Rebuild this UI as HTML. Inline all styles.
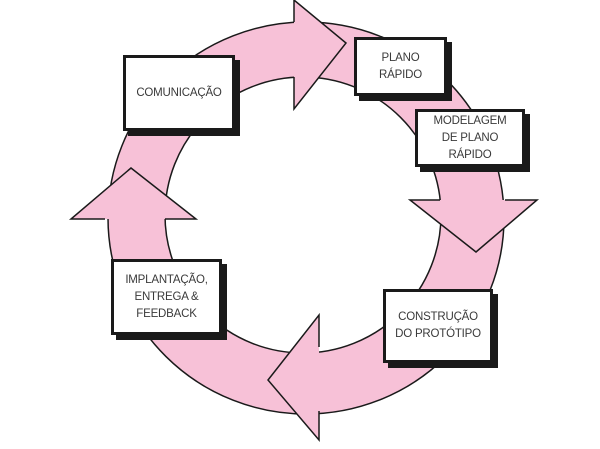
<!DOCTYPE html>
<html><head><meta charset="utf-8"><style>
html,body{margin:0;padding:0;background:#fff;width:600px;height:449px;overflow:hidden}
.b{position:absolute;background:#fff;border:3px solid #1a1a1a;box-shadow:5px 5px 0 #1a1a1a;box-sizing:border-box;display:flex;align-items:center;justify-content:center;text-align:center;font-family:"Liberation Sans",sans-serif;font-size:11.5px;line-height:17px;color:#3a3a3a;letter-spacing:-0.2px}
</style></head><body>
<svg width="600" height="449" style="position:absolute;left:0;top:0">
<path fill-rule="evenodd" fill="#f7c1d7" stroke="#1a1a1a" stroke-width="1.5" d="M108,218 a198,196 0 1,0 396,0 a198,196 0 1,0 -396,0 Z M165,215 a138,138 0 1,0 276,0 a138,138 0 1,0 -276,0 Z"/>
<g fill="#f7c1d7" stroke="none">
<polygon points="294,0 346,43 294,109"/>
<polygon points="537,200 476,252 410,200"/>
<polygon points="319,440 268,380 319,315"/>
<polygon points="71,219 131,168 196,219"/>
</g>
<g fill="none" stroke="#1a1a1a" stroke-width="1.5">
<polyline points="294,22 294,0 346,43 294,109 294,77"/>
<polyline points="505,200 537,200 476,252 410,200 440,200"/>
<polyline points="319,347 319,315 268,380 319,440 319,411"/>
<polyline points="105,219 71,219 131,168 196,219 165,219"/>
</g>
</svg>
<div class="b" style="left:123px;top:55px;width:112px;height:76px">COMUNICAÇÃO</div>
<div class="b" style="left:354px;top:37px;width:93px;height:59px">PLANO<br>RÁPIDO</div>
<div class="b" style="left:415px;top:109px;width:110px;height:58px">MODELAGEM<br>DE PLANO<br>RÁPIDO</div>
<div class="b" style="left:383px;top:289px;width:110px;height:74px">CONSTRUÇÃO<br>DO PROTÓTIPO</div>
<div class="b" style="left:111px;top:259px;width:111px;height:76px">IMPLANTAÇÃO,<br>ENTREGA &amp;<br>FEEDBACK</div>
</body></html>
